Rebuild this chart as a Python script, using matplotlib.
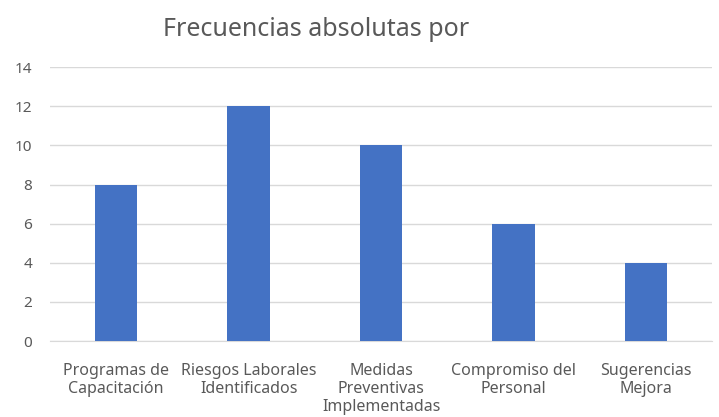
import numpy as np
import matplotlib.pyplot as plt

# datos del grafico
categorias = ['Programas de\nCapacitación', 'Riesgos Laborales\nIdentificados',
              'Medidas\nPreventivas\nImplementadas', 'Compromiso del\nPersonal',
              'Sugerencias\nMejora']
frecuencias = [8, 12, 10, 6, 4]
yticks = [0, 2, 4, 6, 8, 10, 12, 14]

plt.rcParams['font.family'] = ['Noto Sans', 'DejaVu Sans']

fig = plt.figure(figsize=(7.19, 4.17), dpi=100)
ax = fig.add_axes([0.0695, 0.182, 0.921, 0.657])

x = np.arange(len(categorias))
ax.bar(x, frecuencias, width=0.32, color='#4472C4', zorder=3)

ax.set_xlim(-0.5, len(categorias) - 0.5)
ax.set_ylim(0, 14)
ax.set_yticks(yticks)
ax.set_xticks(x)
ax.set_xticklabels(categorias, fontsize=11.5, color='#595959', linespacing=1.2)
ax.tick_params(axis='y', labelsize=11, labelcolor='#595959', length=0, pad=13)
ax.tick_params(axis='x', length=0, pad=15.5)

ax.grid(axis='y', color='#d9d9d9', linewidth=1, zorder=0)
for s in ['top', 'right', 'left']:
    ax.spines[s].set_visible(False)
ax.spines['bottom'].set_color('#d9d9d9')

fig.text(0.44, 0.93, 'Frecuencias absolutas por', fontsize=18,
         color='#595959', ha='center', va='center')

fig.savefig('out.png', dpi=100)
